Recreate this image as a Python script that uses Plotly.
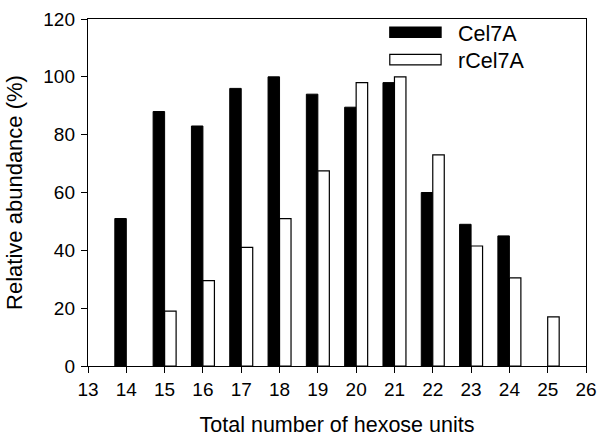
import plotly.graph_objects as go

# hexose units (x) and relative abundance (%)
hexose_units = [14, 15, 16, 17, 18, 19, 20, 21, 22, 23, 24, 25]
cel7a = [51, 88, 83, 96, 100, 94, 89.5, 98, 60, 49, 45, None]
rcel7a = [None, 19, 29.5, 41, 51, 67.5, 98, 100, 73, 41.5, 30.5, 17]

x_ticks = list(range(13, 27))
y_ticks = list(range(0, 121, 20))

FONT = "Liberation Sans, Arial, sans-serif"

fig = go.Figure()

fig.add_trace(go.Bar(
    x=hexose_units, y=cel7a, name="Cel7A",
    marker=dict(color="black", line=dict(color="black", width=1)),
    showlegend=False,
))
fig.add_trace(go.Bar(
    x=hexose_units, y=rcel7a, name="rCel7A",
    marker=dict(color="white", line=dict(color="black", width=1.2)),
    showlegend=False,
))

# legend drawn by hand (wide swatches like the original)
legend_items = [("Cel7A", "black", 0.962), ("rCel7A", "white", 0.883)]
for label, color, yy in legend_items:
    fig.add_shape(type="rect", xref="paper", yref="paper",
                  x0=0.606, x1=0.709, y0=yy - 0.015, y1=yy + 0.015,
                  fillcolor=color, line=dict(color="black", width=1.2))
    fig.add_annotation(text=label, xref="paper", yref="paper",
                       x=0.738, y=yy - 0.004, xanchor="left", yanchor="middle",
                       showarrow=False, font=dict(family=FONT, size=21.5, color="black"))

fig.update_layout(
    width=600, height=437,
    margin=dict(l=88, r=14, t=19, b=71),
    plot_bgcolor="white", paper_bgcolor="white",
    barmode="group", bargap=0.4, bargroupgap=0,
    font=dict(family=FONT, size=19, color="black"),
)

fig.update_xaxes(
    range=[13, 26], tickvals=x_ticks, ticktext=[str(t) for t in x_ticks],
    showgrid=False, zeroline=False, automargin=False,
    showline=True, linecolor="black", linewidth=1.4, mirror=True,
    ticks="outside", ticklen=6, tickcolor="black", tickwidth=1.2,
    title=dict(text="Total number of hexose units", font=dict(size=21.5), standoff=19),
)
fig.update_yaxes(
    range=[0, 120], tickvals=y_ticks,
    showgrid=False, zeroline=False, automargin=False,
    showline=True, linecolor="black", linewidth=1.4, mirror=True,
    ticks="outside", ticklen=6, tickcolor="black", tickwidth=1.2,
    ticklabelstandoff=2,
    title=dict(text="Relative abundance (%)", font=dict(size=22), standoff=14),
)

# drop the default page margin so the 600x437 figure fills the window
fig.write_html("out.html", config={"displayModeBar": False},
               post_script="document.body.style.margin='0';")
